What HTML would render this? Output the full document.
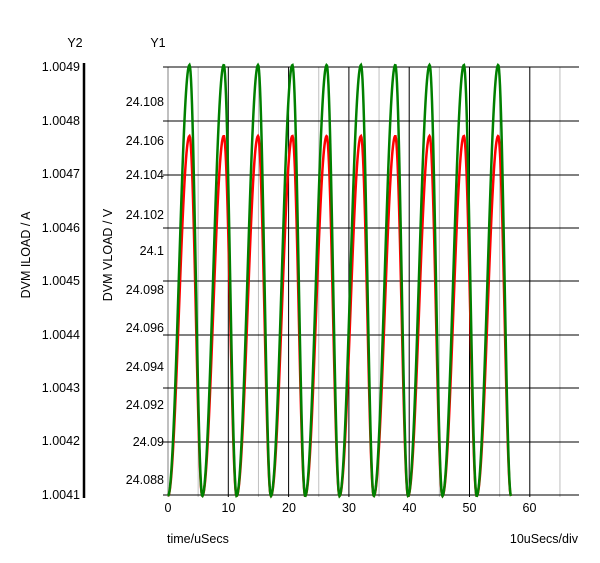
<!DOCTYPE html>
<html><head><style>
body{margin:0;background:#fff;}
svg{display:block;font-family:"Liberation Sans",sans-serif;font-size:12.5px;}
</style></head><body>
<svg id="s" width="600" height="563" xmlns="http://www.w3.org/2000/svg">
<text x="75" y="47" text-anchor="middle">Y2</text>
<text x="158" y="47" text-anchor="middle">Y1</text>
<line x1="84" y1="63" x2="84" y2="498" stroke="#000" stroke-width="2.5"/>
<g text-anchor="end">
<text x="80" y="71">1.0049</text><text x="80" y="125">1.0048</text><text x="80" y="178">1.0047</text>
<text x="80" y="232">1.0046</text><text x="80" y="285">1.0045</text><text x="80" y="339">1.0044</text>
<text x="80" y="392">1.0043</text><text x="80" y="445">1.0042</text><text x="80" y="499">1.0041</text>
<text x="164" y="106">24.108</text><text x="164" y="145">24.106</text><text x="164" y="179">24.104</text>
<text x="164" y="219">24.102</text><text x="164" y="255">24.1</text><text x="164" y="294">24.098</text>
<text x="164" y="332">24.096</text><text x="164" y="371">24.094</text><text x="164" y="409">24.092</text>
<text x="164" y="446">24.09</text><text x="164" y="484">24.088</text>
</g>
<text transform="translate(30,255) rotate(-90)" text-anchor="middle">DVM ILOAD / A</text>
<text transform="translate(112,255) rotate(-90)" text-anchor="middle">DVM VLOAD / V</text>
<g id="grid"></g>
<g text-anchor="middle">
<text x="168" y="512">0</text><text x="228.5" y="512">10</text><text x="289" y="512">20</text>
<text x="349" y="512">30</text><text x="409.5" y="512">40</text><text x="469.5" y="512">50</text>
<text x="529.5" y="512">60</text>
</g>
<text x="167" y="543">time/uSecs</text>
<text x="578" y="543" text-anchor="end">10uSecs/div</text>
<polyline id="r" fill="none" stroke="#f00" stroke-width="2.5"/>
<polyline id="g" fill="none" stroke="#008000" stroke-width="2.5"/>
</svg>
<script>
var ns="http://www.w3.org/2000/svg",G=document.getElementById('grid');
function L(x1,y1,x2,y2,c,w){var l=document.createElementNS(ns,'line');l.setAttribute('x1',x1);l.setAttribute('y1',y1);l.setAttribute('x2',x2);l.setAttribute('y2',y2);l.setAttribute('stroke',c);l.setAttribute('stroke-width',w);G.appendChild(l);}
for(var i=1;i<=13;i++){var x=168+6.03*5*i;if(x>580)break;L(x,67,x,497,i%2?'#c0c0c0':'#000',1);}
L(168,67,168,497,'#c0c0c0',2);
[67,121,175,228,281,335,388,442,495].forEach(function(y){L(163,y,579,y,'#000',1)});
var P=34.3,R=21.5;
function pts(top,bot){var a=[];for(var x=168;x<=511;x+=0.5){var f=(x-168)%P;var ph=f<R?(f/R)*Math.PI:Math.PI+(f-R)/(P-R)*Math.PI;var y=bot-(bot-top)*(1-Math.cos(ph))/2;a.push(x+','+y.toFixed(1));}return a.join(' ');}
document.getElementById('r').setAttribute('points',pts(136,496));
document.getElementById('g').setAttribute('points',pts(65,496));
</script>
</body></html>
